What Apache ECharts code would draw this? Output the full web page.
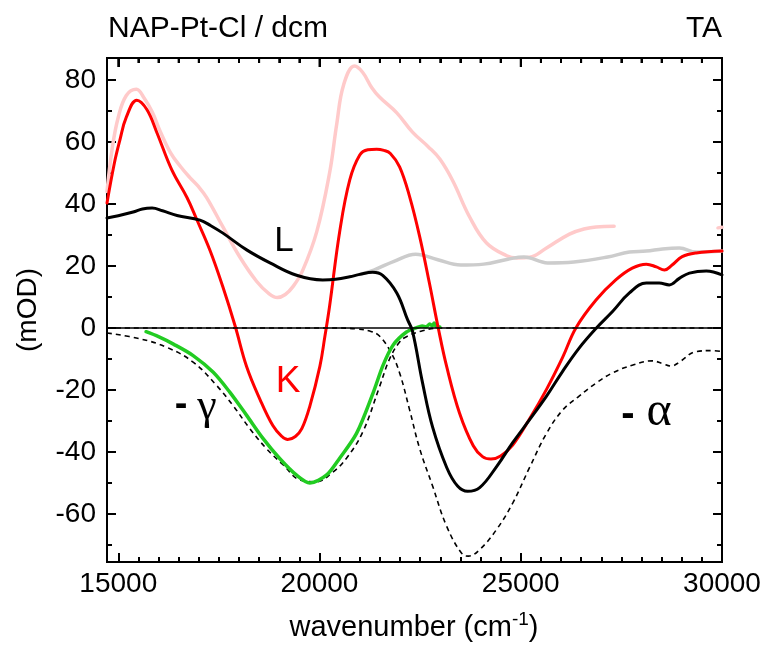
<!DOCTYPE html>
<html>
<head>
<meta charset="utf-8">
<script src="https://cdn.jsdelivr.net/npm/echarts@6/dist/echarts.min.js"></script>
<style>
  html, body { margin: 0; padding: 0; background: #fff; }
  #chart { width: 766px; height: 651px; }
</style>
</head>
<body>
<div id="chart"></div>
<script>
// wavenumber range of the frame
const xMin = 14720, xMax = 30000;
const yMin = -75.5, yMax = 87.1;

const xMajor = [15000, 20000, 25000, 30000];
const xMinor = [];
for (let v = 15500; v < 30000; v += 500) if (v % 5000) xMinor.push(v);
const yMajor = [-60, -40, -20, 0, 20, 40, 60, 80];
const yMinor = [-70, -50, -30, -10, 10, 30, 50, 70];

// K (red)
const kX = [14720, 14900, 15040, 15200, 15460, 15710, 15960, 16330, 16710, 16950, 17280, 17600, 17900,
  18190, 18520, 18840, 19050, 19210, 19400, 19560, 19760, 20010, 20130, 20250, 20500, 20750, 21000, 21200,
  21420, 21600, 21760, 21990, 22240, 22490, 22730, 22950, 23160, 23480, 23820, 24050, 24260, 24500, 24800,
  25220, 25640, 26040, 26370, 26870, 27360, 27770, 28120, 28370, 28570, 28760, 29010, 29360, 30000];
const kY = [40.3, 53, 60.6, 68, 73.5, 70.5, 63, 51, 42, 35, 25, 13.2, 0.8,
  -12.5, -23, -31.5, -34.8, -36, -35, -32.5, -25.2, -12.3, -3, 7, 31, 47.7, 55.8, 57.5,
  57.7, 57.3, 56.3, 52, 42.3, 29.4, 14.5, 0, -12.5, -27.5, -38, -41.5, -42.3, -41.3, -37.8,
  -29.3, -19.8, -9.5, 0, 9, 15.5, 19.3, 20.6, 19.7, 18.7, 20.3, 23, 24.2, 24.8];

// L (black)
const lX = [14720, 15000, 15370, 15600, 15840, 16100, 16460, 17030, 17300, 17600, 18190, 18770, 19430, 20080,
  20400, 20750, 21000, 21320, 21570, 21920, 22190, 22310, 22560, 22810, 23160, 23430, 23680, 23980, 24400,
  24800, 25220, 25640, 26040, 26450, 26880, 27280, 27700, 28120, 28440, 28690, 28940, 29190, 29610, 30000];
const lY = [35.5, 36.2, 37.4, 38.4, 38.7, 37.8, 36.3, 34.8, 33, 30.6, 25.2, 21, 17, 15.5,
  15.7, 16.5, 17.3, 18, 17, 11.3, 2.6, -1, -17.7, -32, -45, -51, -52.7, -51.5, -44.7,
  -37, -29.6, -22, -14, -6.5, 0, 5.3, 11.3, 14.5, 14.5, 13.9, 16, 17.7, 18.4, 17.1];

// grey trace
const greyX = [21000, 21350, 21850, 22390, 22940, 23510, 24080, 24680, 25080, 25670, 26320, 27160, 27700,
  28120, 28520, 28940, 29360, 30000];
const greyY = [17.3, 18.7, 21.5, 23.8, 22, 20.3, 20.6, 22.2, 22.9, 21, 21.3, 22.9, 24.5,
  24.8, 25.5, 25.8, 24.5, 24.8];

// pale red trace (gap between 27320 and 29900)
const pinkX = [14720, 14850, 15000, 15200, 15450, 15650, 15850, 16040, 16300, 16550, 16780, 17000, 17200, 17600,
  18020, 18440, 18750, 18950, 19150, 19350, 19580, 19930, 20250, 20430, 20600, 20870, 21070, 21300, 21490,
  21920, 22310, 22700, 22990, 23310, 23730, 24150, 24650, 24900, 25220, 25640, 26210, 26600, 26870, 27320,
  28500, 29900, 30000];
const pinkY = [44, 58, 68, 75, 77, 74, 69.5, 63.5, 56.5, 52, 48.5, 45.5, 42, 32.6,
  22.9, 15, 11, 9.8, 10.8, 13.5, 18.5, 31, 50, 66, 78.5, 84.5, 82.5, 77.5, 74.5,
  69.4, 63.2, 58.5, 54.5, 47.5, 35.8, 27.4, 23.3, 22.6, 22.8, 25.8, 30.3, 32, 32.6, 32.8,
  null, 32.3, 32.5];

// -gamma measured (green)
const gX = [15690, 16000, 16370, 16860, 17360, 17770, 18190, 18600, 19010, 19430, 19760, 20170, 20500, 20920,
  21330, 21580, 21830, 22160, 22400, 22550, 22650, 22740, 22800, 22850, 22900, 22990];
const gY = [-1.2, -2.8, -5.2, -8.9, -14.3, -20.7, -28.2, -35.7, -42.1, -47.5, -50, -47.5, -42, -34,
  -21, -12, -5.5, -1.3, 0, 0.6, 0.4, 1.3, 0.7, 1.6, 0.4, 0.3];

// -gamma model (dashed)
const gmX = [14720, 15540, 16200, 16860, 17440, 17850, 18270, 18680, 19100, 19510, 19920, 20340, 20670, 21070,
  21490, 21740, 21990, 22160, 22560, 22990, 30000];
const gmY = [-1.6, -3.5, -6.2, -11, -18.5, -25, -32.5, -38.9, -44.2, -49, -49.6, -46.4, -42, -33.7,
  -19, -10, -4.5, -2.8, -0.9, 0, 0];

// -alpha model (dashed)
const amX = [14720, 20500, 20900, 21250, 21490, 21780, 21990, 22240, 22490, 22810, 23160, 23550, 23700, 23980,
  24400, 24800, 25220, 25640, 26040, 26450, 26870, 27280, 27770, 28270, 28520, 28740, 28940, 29360, 29760, 30000];
const amY = [0, 0, -0.3, -1, -2.6, -8, -14.5, -26.5, -39, -51, -64, -73, -73.6, -71.5,
  -65, -56.5, -45, -34, -26.5, -22, -17.8, -14.5, -12, -10.6, -11.5, -12.3, -11, -7.6, -7.3, -7.6];

const pairs = (xs, ys) => xs.map((x, i) => [x, ys[i]]);

const FONT = "'Liberation Sans', Arial, Helvetica, sans-serif";
const SERIF = "'Liberation Serif', 'Times New Roman', serif";
const plotRect = { left: 107, top: 58, right: 44, bottom: 89 };

// tick-only axes; the frame itself is the grid border
function xAx(grid, pos, ticks, len, labels) {
  return {
    type: 'value', gridIndex: grid, position: pos, min: xMin, max: xMax,
    axisLine: { show: false, onZero: false },
    axisTick: { show: true, inside: true, length: len, customValues: ticks, lineStyle: { color: '#000', width: 2 } },
    axisLabel: labels ? { show: true, customValues: ticks, color: '#000', fontSize: 28, fontFamily: FONT, margin: 8,
      formatter: v => String(v) } : { show: false },
    splitLine: { show: false }
  };
}
function yAx(grid, pos, ticks, len, labels) {
  return {
    type: 'value', gridIndex: grid, position: pos, min: yMin, max: yMax,
    axisLine: { show: false, onZero: false },
    axisTick: { show: true, inside: true, length: len, customValues: ticks, lineStyle: { color: '#000', width: 2 } },
    axisLabel: labels ? { show: true, customValues: ticks, color: '#000', fontSize: 28, fontFamily: FONT, margin: 11,
      formatter: v => String(v) } : { show: false },
    splitLine: { show: false }
  };
}

const chart = echarts.init(document.getElementById('chart'));

// later series draw on top of earlier ones
const line = (name, data, color, width, extra) => Object.assign({
  name, type: 'line', data, xAxisIndex: 0, yAxisIndex: 0, showSymbol: false, symbol: 'none',
  smooth: 0.4, connectNulls: false,
  lineStyle: { color, width, cap: 'round', join: 'round' }
}, extra || {});

const textItems = [
  { type: 'text', x: 108, y: 14, style: { text: 'NAP-Pt-Cl / dcm', fontSize: 30, fontFamily: FONT, fill: '#000' } },
  { type: 'text', x: 722, y: 14, style: { text: 'TA', fontSize: 30, fontFamily: FONT, fill: '#000', align: 'right' } },
  { type: 'text', x: 28, y: 310, rotation: Math.PI / 2,
    style: { text: '(mOD)', fontSize: 28, fontFamily: FONT, fill: '#000', align: 'center', verticalAlign: 'middle' } },
  { type: 'text', x: 414, y: 628,
    style: {
      text: '{a|wavenumber (cm}{s|-1}{a|)}', align: 'center', verticalAlign: 'middle',
      rich: {
        a: { fontSize: 29, fontFamily: FONT, fill: '#000' },
        s: { fontSize: 19, fontFamily: FONT, fill: '#000', verticalAlign: 'top', padding: [0, 0, 16, 0] }
      }
    } },
  { type: 'text', x: 284, y: 241, style: { text: 'L', fontSize: 35, fontFamily: FONT, fill: '#000', align: 'center', verticalAlign: 'middle' } },
  { type: 'text', x: 288, y: 382, style: { text: 'K', fontSize: 37, fontFamily: FONT, fill: '#ff0000', align: 'center', verticalAlign: 'middle' } },
  { type: 'text', x: 181, y: 406, style: { text: '-', fontSize: 38, fontWeight: 'bold', fontFamily: FONT, fill: '#000', align: 'center', verticalAlign: 'middle' } },
  { type: 'text', x: 207, y: 407, style: { text: 'γ', fontSize: 44, fontFamily: SERIF, fill: '#000', align: 'center', verticalAlign: 'middle' } },
  { type: 'text', x: 628, y: 415, style: { text: '-', fontSize: 40, fontWeight: 'bold', fontFamily: FONT, fill: '#000', align: 'center', verticalAlign: 'middle' } },
  { type: 'text', x: 659, y: 412, style: { text: 'α', fontSize: 48, fontFamily: SERIF, fill: '#000', align: 'center', verticalAlign: 'middle' } }
];

chart.setOption({
  animation: false,
  grid: [
    Object.assign({ show: true, borderColor: '#000', borderWidth: 2, backgroundColor: 'transparent' }, plotRect),
    Object.assign({}, plotRect)
  ],
  xAxis: [
    xAx(0, 'bottom', xMajor, 9, true),
    xAx(0, 'top', xMajor, 9, false),
    xAx(1, 'bottom', xMinor, 5, false),
    xAx(1, 'top', xMinor, 5, false)
  ],
  yAxis: [
    yAx(0, 'left', yMajor, 9, true),
    yAx(0, 'right', yMajor, 9, false),
    yAx(1, 'left', yMinor, 5, false),
    yAx(1, 'right', yMinor, 5, false)
  ],
  series: [
    line('pale', pairs(pinkX, pinkY), '#ffcaca', 3.5),
    line('grey', pairs(greyX, greyY), '#cccccc', 3.5),
    line('-alpha', pairs(amX, amY), '#000', 1.6, {
      lineStyle: { color: '#000', width: 1.6, type: [5, 4] },
      markLine: {
        silent: true, symbol: 'none', label: { show: false },
        lineStyle: { color: '#000', width: 1.6, type: 'solid' },
        data: [{ yAxis: 0 }]
      }
    }),
    line('-gamma', pairs(gmX, gmY), '#000', 1.6, {
      lineStyle: { color: '#000', width: 1.6, type: [5, 4] }
    }),
    line('gamma meas', pairs(gX, gY), '#22cc22', 3.5, { smooth: 0.3 }),
    line('K', pairs(kX, kY), '#ff0000', 3),
    line('L', pairs(lX, lY), '#000000', 3)
  ],
  graphic: textItems
});

// top edge of the frame with its inward ticks, placed through the axis scales
const leftTop = chart.convertToPixel({ gridIndex: 0 }, [xMin, yMax]);
const rightTop = chart.convertToPixel({ gridIndex: 0 }, [xMax, yMax]);
const topY = leftTop[1];
const topItems = [{
  type: 'line', z: 100, silent: true,
  shape: { x1: leftTop[0] - 1, y1: topY, x2: rightTop[0] + 1, y2: topY },
  style: { stroke: '#000', lineWidth: 2 }
}];
xMajor.concat(xMinor).forEach(v => {
  const px = chart.convertToPixel({ xAxisIndex: 0 }, v);
  const len = xMajor.includes(v) ? 9 : 5;
  topItems.push({
    type: 'line', z: 100, silent: true,
    shape: { x1: px, y1: topY, x2: px, y2: topY + len },
    style: { stroke: '#000', lineWidth: 2 }
  });
});
chart.setOption({ graphic: textItems.concat(topItems) });
</script>
</body>
</html>
